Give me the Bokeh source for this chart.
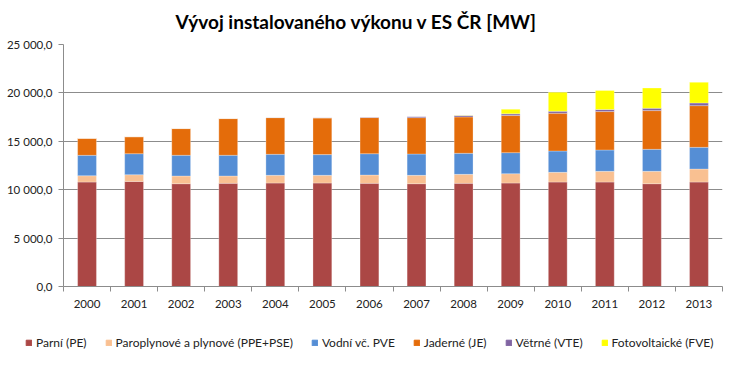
import numpy as np
from bokeh.plotting import figure
from bokeh.layouts import column
from bokeh.models import FixedTicker, Legend, LegendItem, ColumnDataSource, Range1d, Title
from bokeh.embed import file_html
from bokeh.resources import INLINE

years = ["2000", "2001", "2002", "2003", "2004", "2005", "2006",
         "2007", "2008", "2009", "2010", "2011", "2012", "2013"]

parni = [10790, 10860, 10620, 10655, 10690, 10690, 10655,
         10620, 10655, 10690, 10790, 10790, 10620, 10790]
paroplyn = [655, 690, 795, 760, 795, 795, 860,
            860, 930, 965, 1000, 1105, 1275, 1345]
vodni = [2105, 2170, 2140, 2140, 2170, 2140, 2205,
         2205, 2175, 2175, 2205, 2205, 2275, 2240]
jaderne = [1760, 1760, 2760, 3790, 3790, 3790, 3730,
           3760, 3760, 3830, 3900, 3970, 4000, 4310]
vetrne = [0, 0, 3, 10, 15, 25, 50,
          110, 140, 175, 210, 210, 245, 275]
fve = [0, 0, 0, 0, 0, 0, 0,
       4, 40, 465, 1960, 1970, 2090, 2130]

series_names = ["Parní (PE)", "Paroplynové a plynové (PPE+PSE)", "Vodní vč. PVE",
                "Jaderné (JE)", "Větrné (VTE)", "Fotovoltaické (FVE)"]
colors = ["#AB4745", "#F9C091", "#558ED5", "#E46C0A", "#8064A2", "#FFFF00"]

y_ticks = [0, 5000, 10000, 15000, 20000, 25000]
y_tick_labels = ["0,0", "5 000,0", "10 000,0", "15 000,0", "20 000,0", "25 000,0"]

chart_title = "Vývoj instalovaného výkonu v ES ČR [MW]"

keys = ["pe", "ppe", "vod", "je", "vte", "fve"]
x = np.arange(len(years)) + 0.5
source = ColumnDataSource(dict(x=x, pe=parni, ppe=paroplyn, vod=vodni,
                               je=jaderne, vte=vetrne, fve=fve))

FONT = "Lato"
GREY = "#8C8C8C"
W = 731

p = figure(width=W, height=320, output_backend="svg", toolbar_location=None, title=None,
           x_range=Range1d(0, len(years)), y_range=Range1d(0, 25000),
           min_border_left=63, min_border_right=9, min_border_top=44, min_border_bottom=34)
p.frame_align = False
p.outline_line_color = None
p.background_fill_color = "white"

# small empty spacer between frame and title, then the title itself
p.add_layout(Title(text=" ", text_font=FONT, text_font_size="7px", standoff=0), "above")
p.add_layout(Title(text=chart_title, align="left", offset=112, text_font=FONT,
                   text_font_style="bold", text_font_size="19px",
                   text_color="#000000", standoff=4), "above")

p.vbar_stack(keys, x="x", width=0.4, source=source, color=colors,
             line_color="white", line_alpha=0.35, line_width=0.8)

# y axis
p.yaxis.ticker = FixedTicker(ticks=y_ticks)
p.yaxis.major_label_overrides = {t: l for t, l in zip(y_ticks, y_tick_labels)}
p.yaxis.axis_line_color = GREY
p.yaxis.major_tick_line_color = GREY
p.yaxis.major_tick_out = 5
p.yaxis.major_tick_in = 0
p.yaxis.minor_tick_line_color = None
p.yaxis.major_label_text_font = FONT
p.yaxis.major_label_text_font_size = "11.5px"
p.yaxis.major_label_text_color = "#222222"
p.yaxis.major_label_standoff = 6

# x axis
x_bounds = list(range(len(years) + 1))
p.xaxis.ticker = FixedTicker(ticks=list(x), minor_ticks=x_bounds)
p.xaxis.major_label_overrides = {float(c): y for c, y in zip(x, years)}
p.xaxis.axis_line_color = GREY
p.xaxis.major_tick_line_color = None
p.xaxis.major_tick_out = 0
p.xaxis.major_tick_in = 0
p.xaxis.minor_tick_line_color = GREY
p.xaxis.minor_tick_out = 5
p.xaxis.minor_tick_in = 0
p.xaxis.major_label_text_font = FONT
p.xaxis.major_label_text_font_size = "11.5px"
p.xaxis.major_label_text_color = "#222222"
p.xaxis.major_label_standoff = 8

p.xgrid.grid_line_color = None
p.ygrid.ticker = FixedTicker(ticks=y_ticks)
p.ygrid.grid_line_color = GREY
p.ygrid.grid_line_width = 1

# legend strip below the chart (same stacked series, kept outside its visible x range)
lf = figure(width=W, height=48, output_backend="svg", toolbar_location=None,
            x_range=Range1d(-3, -2), y_range=Range1d(0, 1),
            x_axis_location=None, y_axis_location=None,
            min_border_left=0, min_border_right=0, min_border_top=0, min_border_bottom=0)
lf.frame_align = False
lf.outline_line_color = None
lf.xgrid.grid_line_color = None
lf.ygrid.grid_line_color = None
swatches = lf.vbar_stack(keys, x="x", width=0.4, source=source, color=colors)
items = [LegendItem(label=n, renderers=[r]) for n, r in zip(series_names, swatches)]
legend = Legend(items=items, orientation="horizontal", location=(25, 18),
                glyph_width=7, glyph_height=7, label_standoff=4, spacing=18,
                label_text_font=FONT, label_text_font_size="12px",
                label_text_color="#222222", padding=2, margin=0,
                border_line_color=None, background_fill_alpha=0)
lf.add_layout(legend, "center")

layout = column(p, lf, spacing=0)
open("out.html", "w").write(file_html(layout, INLINE))
